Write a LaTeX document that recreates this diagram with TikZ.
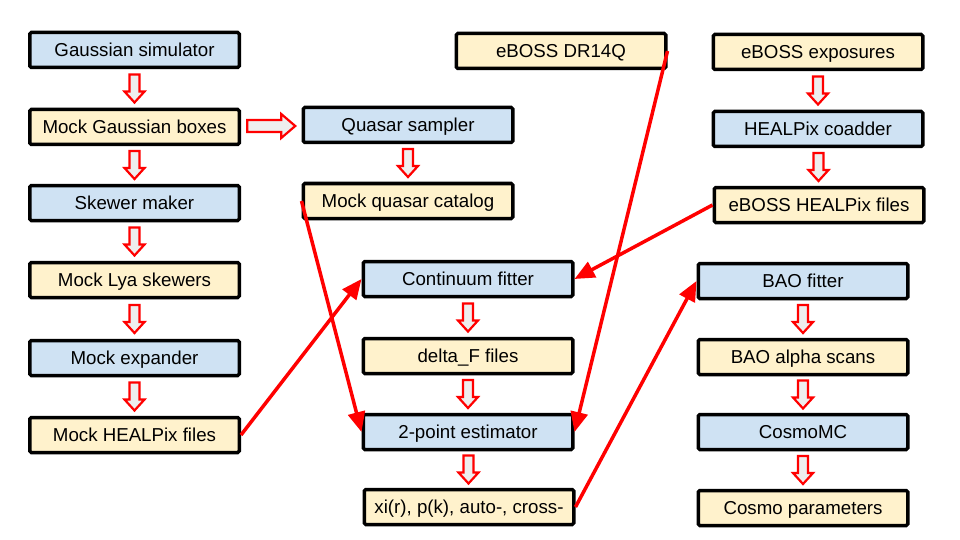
\documentclass[tikz,border=0pt]{standalone}
\usepackage{fontspec}
\setmainfont{Liberation Sans}
\usetikzlibrary{arrows.meta,calc}
\definecolor{boxblue}{HTML}{CFE2F3}
\definecolor{boxyellow}{HTML}{FFF2CC}
\definecolor{arrfill}{HTML}{EEEEEE}
\begin{document}
\begin{tikzpicture}[x=1pt,y=-1pt,
  box/.style={draw=black, line width=3.5pt, rounded corners=1.5pt, minimum width=209.5pt, minimum height=35pt, inner sep=0pt, text height=13.4pt, text depth=0pt, font=\fontsize{18.7}{22}\selectfont},
  proc/.style={box, fill=boxblue},
  data/.style={box, fill=boxyellow},
  link/.style={draw=red, line width=3.5pt, -{Triangle[length=20pt,width=17pt]}},
  downarr/.pic={\draw[red, line width=2.2pt, fill=arrfill, line join=miter]
     (-5,-14) -- (5,-14) -- (5,3) -- (10,3) -- (0,14) -- (-10,3) -- (-5,3) -- cycle;},
  rightarr/.pic={\draw[red, line width=2.2pt, fill=arrfill, line join=miter]
     (-24,-6) -- (10,-6) -- (10,-12) -- (24,0) -- (10,12) -- (10,6) -- (-24,6) -- cycle;}
]
\useasboundingbox (0,0) rectangle (960,540);
% left column
\node[proc] (gs)  at (134.5,50)  {Gaussian simulator};
\node[data] (mgb) at (134.5,127) {Mock Gaussian boxes};
\node[proc] (sm)  at (134.5,203) {Skewer maker};
\node[data] (mls) at (134.5,280) {Mock Lya skewers};
\node[proc] (me)  at (134.5,358) {Mock expander};
\node[data] (mhf) at (134.5,435) {Mock HEALPix files};
% middle
\node[proc] (qs)  at (408,125) {Quasar sampler};
\node[data] (mqc) at (408,201) {Mock quasar catalog};
\node[data] (dr)  at (561,51)  {eBOSS DR14Q};
\node[proc] (cf)  at (468,279) {Continuum fitter};
\node[data] (df)  at (468,356) {delta\_F files};
\node[proc] (tp)  at (468,432) {2-point estimator};
\node[data] (xi)  at (469,507) {xi(r), p(k), auto-, cross-};
% right
\node[data] (ex)  at (818,52)  {eBOSS exposures};
\node[proc] (hc)  at (818,129) {HEALPix coadder};
\node[data] (ehf) at (819,205) {eBOSS HEALPix files};
\node[proc] (bf)  at (803,281) {BAO fitter};
\node[data] (bas) at (803,357) {BAO alpha scans};
\node[proc] (cm)  at (803,432) {CosmoMC};
\node[data] (cp)  at (803,508) {Cosmo parameters};
% block arrows
\foreach \a/\b in {gs/mgb, mgb/sm, sm/mls, mls/me, me/mhf, qs/mqc, cf/df, df/tp, tp/xi, ex/hc, hc/ehf, bf/bas, bas/cm, cm/cp}
  \pic at ($(\a.south)!0.5!(\b.north)$) {downarr};
\pic at ($(mgb.east)!0.5!(qs.west)$) {rightarr};
% red links
\draw[link] (mhf.east) -- (cf.west);
\draw[link] (mqc.west) -- (tp.west);
\draw[link] (dr.east) -- (tp.east);
\draw[link] (ehf.west) -- (cf.east);
\draw[link] (xi.east) -- (bf.west);
\end{tikzpicture}
\end{document}
